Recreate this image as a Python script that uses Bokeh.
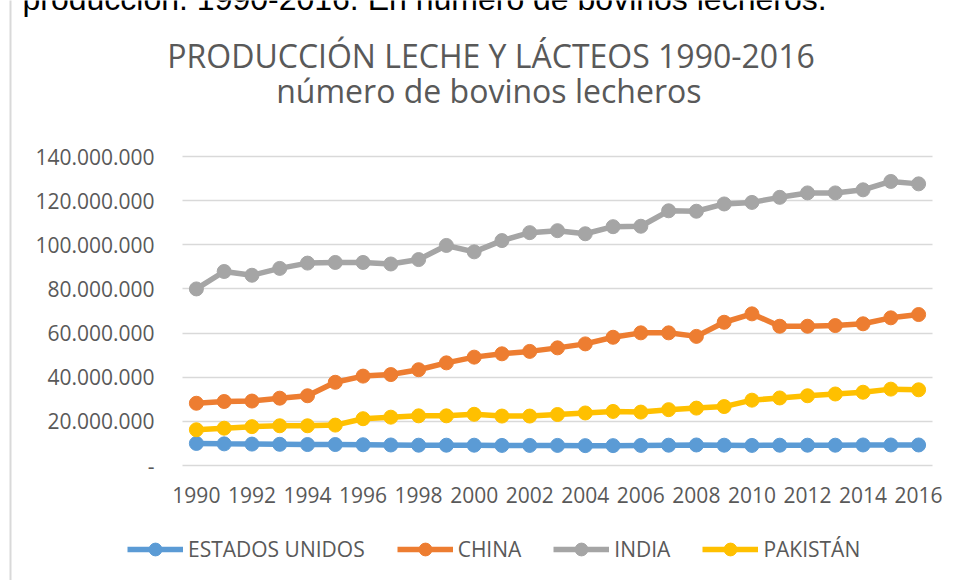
from bokeh.plotting import figure
from bokeh.models import (Range1d, FixedTicker, Legend, LegendItem, Label)
from bokeh.embed import file_html
from bokeh.resources import INLINE

years = list(range(1990, 2017))
estados_unidos = [10.0, 9.8, 9.7, 9.6, 9.5, 9.5, 9.4, 9.3, 9.2, 9.2, 9.2, 9.1, 9.1, 9.1, 9.0,
                  9.0, 9.1, 9.2, 9.3, 9.2, 9.1, 9.2, 9.2, 9.2, 9.3, 9.3, 9.3]
china = [28.2, 29.0, 29.2, 30.5, 31.6, 37.7, 40.5, 41.2, 43.4, 46.5, 49.1, 50.6, 51.7, 53.3, 55.1,
         58.1, 60.1, 60.1, 58.5, 64.9, 68.7, 63.1, 63.1, 63.4, 64.2, 66.9, 68.4]
india = [80.0, 87.9, 86.2, 89.3, 91.7, 92.0, 92.0, 91.3, 93.3, 99.7, 96.8, 101.9, 105.5, 106.4, 105.0,
         108.2, 108.4, 115.4, 115.2, 118.5, 119.2, 121.5, 123.5, 123.5, 124.9, 128.7, 127.6]
pakistan = [16.2, 16.9, 17.6, 18.0, 18.0, 18.3, 21.2, 21.9, 22.5, 22.5, 23.2, 22.4, 22.4, 23.1, 23.8,
            24.5, 24.2, 25.3, 26.0, 26.7, 29.6, 30.6, 31.6, 32.4, 33.2, 34.6, 34.3]
series_names = ["ESTADOS UNIDOS", "CHINA", "INDIA", "PAKISTÁN"]
series_colors = ["#5B9BD5", "#ED7D31", "#A5A5A5", "#FFC000"]
y_ticks = [0, 20000000, 40000000, 60000000, 80000000, 100000000, 120000000, 140000000]
y_tick_labels = ["-", "20.000.000", "40.000.000", "60.000.000", "80.000.000",
                 "100.000.000", "120.000.000", "140.000.000"]
x_ticks = list(range(1990, 2017, 2))
title_line1 = "PRODUCCIÓN LECHE Y LÁCTEOS 1990-2016"
title_line2 = "número  de bovinos lecheros"
caption = "producción.  1990-2016. En número de bovinos lecheros."

FONT = "Open Sans"
W, H = 956, 580

# plot area in canvas pixels: x 182..932, y 156 (top, 140M) .. 465 (bottom, 0)
X0, X1 = 1989.5, 2016.5
PX_X = (932 - 182) / (X1 - X0)
Y_MAX = 140000000
PX_Y = (465 - 156) / Y_MAX
x_range = Range1d(X0 - 182 / PX_X, X1 + (W - 932) / PX_X)
y_range = Range1d(0 - (H - 465) / PX_Y, Y_MAX + 156 / PX_Y)

p = figure(width=W, height=H, output_backend="svg", toolbar_location=None, title=None,
           x_range=x_range, y_range=y_range,
           min_border_left=0, min_border_right=0, min_border_top=0, min_border_bottom=0)
p.outline_line_color = None
p.background_fill_color = "white"
p.border_fill_color = "white"
p.xgrid.visible = False
p.ygrid.visible = False

# y axis pinned to the left edge of the plot area; its inward ticks form the grid lines
p.yaxis.fixed_location = X0
p.yaxis.ticker = FixedTicker(ticks=y_ticks)
p.yaxis.major_label_overrides = {t: l for t, l in zip(y_ticks, y_tick_labels)}
p.yaxis.major_tick_in = 750
p.yaxis.major_tick_out = 0
p.yaxis.major_tick_line_color = "#D9D9D9"
p.yaxis.major_tick_line_width = 1.5
p.yaxis.level = "underlay"
p.yaxis.major_label_standoff = 28

# x axis pinned to y = 0
p.xaxis.fixed_location = 0
p.xaxis.ticker = FixedTicker(ticks=x_ticks)
p.xaxis.major_tick_line_color = None
p.xaxis.major_tick_in = 0
p.xaxis.major_tick_out = 0
p.xaxis.major_label_standoff = 21
p.xaxis.level = "underlay"

for ax in (p.xaxis, p.yaxis):
    ax.axis_line_color = None
    ax.minor_tick_line_color = None
    ax.major_label_text_font = FONT
    ax.major_label_text_font_size = "21px"
    ax.major_label_text_color = "#595959"

items = []
for name, vals, col in zip(series_names, [estados_unidos, china, india, pakistan], series_colors):
    ys = [v * 1e6 for v in vals]
    r1 = p.line(years, ys, line_color=col, line_width=5.5)
    r2 = p.scatter(years, ys, size=14, fill_color=col, line_color=col)
    items.append(LegendItem(label=name, renderers=[r1, r2]))

legend = Legend(items=items, orientation="horizontal", location=(127, 15),
                label_text_font=FONT, label_text_font_size="21px", label_text_color="#595959",
                glyph_width=56, glyph_height=32, label_height=32, label_standoff=5, spacing=32,
                padding=0, margin=0, border_line_color=None, background_fill_alpha=0)
p.add_layout(legend, "center")

# light grey border of the chart object
p.add_layout(Label(x=10, y=H + 7, x_units="screen", y_units="screen", text=" ",
                   text_font_size="1px", text_align="left", text_baseline="top",
                   padding=dict(top=0, right=1000, bottom=700, left=0),
                   border_line_color="#D9D9D9", border_line_width=2,
                   background_fill_color=None))

# partially visible caption of the surrounding document
p.add_layout(Label(x=22, y=H + 2, x_units="screen", y_units="screen", text=caption,
                   text_font="Liberation Sans", text_font_size="32px", text_color="#000000",
                   text_align="left", text_baseline="alphabetic"))

p.add_layout(Label(x=490.5, y=H - 55, x_units="screen", y_units="screen", text=title_line1,
                   text_font=FONT, text_font_size="32px", text_color="#595959",
                   text_align="center", text_baseline="alphabetic"))
p.add_layout(Label(x=492.5, y=H - 90, x_units="screen", y_units="screen", text=title_line2,
                   text_font=FONT, text_font_size="32px", text_color="#595959",
                   text_align="center", text_baseline="alphabetic"))

open("out.html", "w").write(file_html(p, INLINE))
